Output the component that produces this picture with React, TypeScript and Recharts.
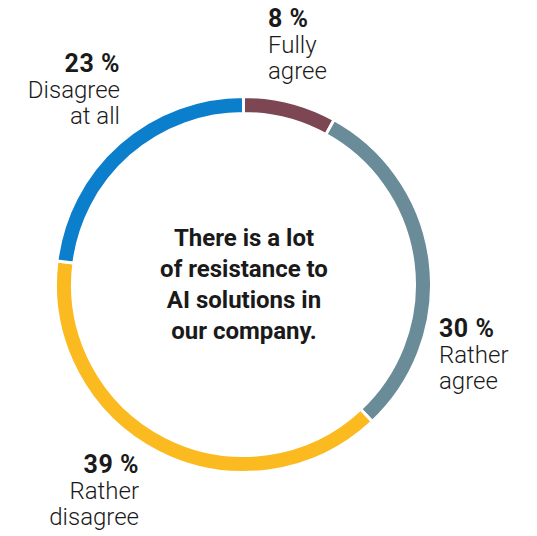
import React from 'react';
import { PieChart, Pie, Cell } from 'recharts';

const categories = ['Fully agree', 'Rather agree', 'Rather disagree', 'Disagree at all'];
const values = [8, 30, 39, 23];
const colors = ['#7D4653', '#6A8C98', '#FBBA1F', '#0B7FCB'];
const labelLines = [['Fully', 'agree'], ['Rather', 'agree'], ['Rather', 'disagree'], ['Disagree', 'at all']];
const centerLines = ['There is a lot', 'of resistance to', 'AI solutions in', 'our company.'];

// label anchor per slice (x, first baseline, text-anchor)
const labelPos: [number, number, 'start' | 'end'][] = [
  [268, 27, 'start'],
  [439, 337, 'start'],
  [139, 473, 'end'],
  [120, 72, 'end'],
];

const FONT = 'Roboto, "Noto Sans", sans-serif';

const data = categories.map((name, i) => ({ name, value: values[i] }));

const renderLabel = (props: any) => {
  const i = props.index;
  const [x, y, anchor] = labelPos[i];
  return (
    <text key={`lbl-${i}`} x={x} y={y} textAnchor={anchor} fontFamily={FONT} fill="#1a1a1a">
      <tspan x={x} y={y} fontSize={25} fontWeight={700} letterSpacing={0.5}>{values[i]} %</tspan>
      {labelLines[i].map((l, j) => (
        <tspan key={j} x={x} y={y + 26 * (j + 1)} fontSize={24} fontWeight={300}>{l}</tspan>
      ))}
    </text>
  );
};

export default function App() {
  return (
    <div style={{ position: 'absolute', left: 0, top: 0, background: '#fff' }}>
      <PieChart width={537} height={536} margin={{ top: 0, right: 0, bottom: 0, left: 0 }}>
        <Pie
          data={data}
          dataKey="value"
          nameKey="name"
          cx={243.5}
          cy={284.5}
          outerRadius={188}
          innerRadius={171}
          startAngle={90}
          endAngle={-270}
          stroke="#fff"
          strokeWidth={3}
          label={renderLabel}
          labelLine={false}
          isAnimationActive={false}
        >
          {data.map((entry, index) => (
            <Cell key={`cell-${index}`} fill={colors[index]} />
          ))}
        </Pie>
        <text x={244} y={246} textAnchor="middle" fontFamily={FONT} fontWeight={700} fontSize={24} fill="#1a1a1a">
          {centerLines.map((l, j) => (
            <tspan key={j} x={244} y={246 + 31 * j}>{l}</tspan>
          ))}
        </text>
      </PieChart>
    </div>
  );
}
